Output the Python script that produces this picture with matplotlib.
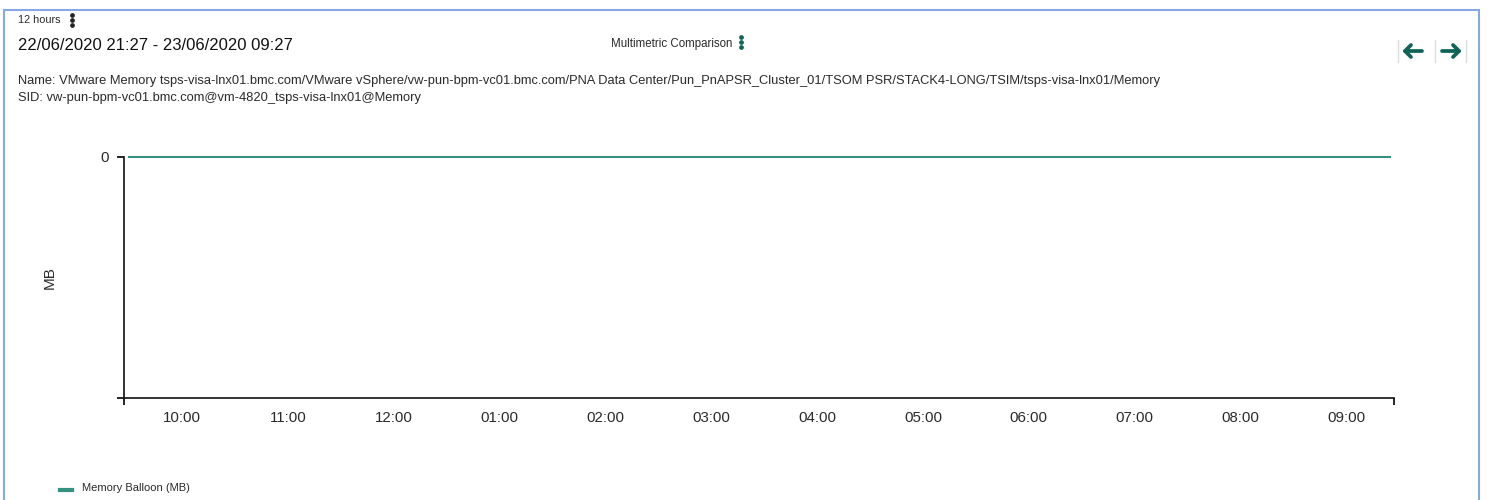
import matplotlib
matplotlib.use('Agg')
import matplotlib.pyplot as plt
import matplotlib.dates as mdates
from matplotlib.lines import Line2D
from matplotlib.patches import Rectangle
import pandas as pd

# Данные
range_start = "2020-06-22 21:27"
range_end = "2020-06-23 09:27"
times = ["2020-06-22 21:30", "2020-06-22 22:30", "2020-06-22 23:30", "2020-06-23 00:30",
         "2020-06-23 01:30", "2020-06-23 02:30", "2020-06-23 03:30", "2020-06-23 04:30",
         "2020-06-23 05:30", "2020-06-23 06:30", "2020-06-23 07:30", "2020-06-23 08:30",
         "2020-06-23 09:25"]
balloon_mb = [0, 0, 0, 0, 0, 0, 0, 0, 0, 0, 0, 0, 0]
series_name = "Memory Balloon (MB)"

header_period = "12 hours"
header_range = "22/06/2020 21:27 - 23/06/2020 09:27"
chart_title = "Multimetric Comparison"
name_line = ("Name: VMware Memory tsps-visa-lnx01.bmc.com/VMware vSphere/vw-pun-bpm-vc01.bmc.com/"
             "PNA Data Center/Pun_PnAPSR_Cluster_01/TSOM PSR/STACK4-LONG/TSIM/tsps-visa-lnx01/Memory")
sid_line = "SID: vw-pun-bpm-vc01.bmc.com@vm-4820_tsps-visa-lnx01@Memory"

plt.rcParams['font.family'] = ['Liberation Sans', 'DejaVu Sans']

W, H = 1494, 500
fig = plt.figure(figsize=(W / 100, H / 100), dpi=100)


def fx(px):
    return px / W


def fy(py):
    return 1 - py / H


teal = '#35917f'
dark_teal = '#0f6457'
text_col = '#2a2a2a'

# рамка панели
fig.add_artist(Rectangle((fx(4), fy(560)), fx(1475), fy(10) - fy(560), transform=fig.transFigure,
                         fill=False, edgecolor='#86a8e4', linewidth=1.5))

# шапка
fig.text(fx(18), fy(20), header_period, fontsize=7.8, va='center', ha='left', color=text_col)
fig.text(fx(18), fy(45), header_range, fontsize=12, va='center', ha='left', color='#111111')
fig.text(fx(672), fy(44), chart_title, fontsize=8.3, va='center', ha='center', color=text_col)
fig.text(fx(18), fy(81), name_line, fontsize=9.3, va='center', ha='left', color=text_col)
fig.text(fx(18), fy(98), sid_line, fontsize=9.3, va='center', ha='left', color=text_col)

# меню "три точки"
for cx, cy, col in [(72, 20, '#222222'), (741, 42, dark_teal)]:
    for dy in (-5, 0, 5):
        fig.add_artist(Line2D([fx(cx)], [fy(cy + dy)], marker='o', markersize=2.4,
                              color=col, transform=fig.transFigure))

# стрелки навигации
for sx in (1398, 1435, 1466):
    fig.add_artist(Line2D([fx(sx), fx(sx)], [fy(40), fy(62)], color='#dddddd', linewidth=1,
                          transform=fig.transFigure))
arrow_kw = dict(color=dark_teal, linewidth=2.7, solid_capstyle='round', solid_joinstyle='round',
                transform=fig.transFigure)
# влево
fig.add_artist(Line2D([fx(1405), fx(1422)], [fy(51), fy(51)], **arrow_kw))
fig.add_artist(Line2D([fx(1411), fx(1405), fx(1411)], [fy(45), fy(51), fy(57)], **arrow_kw))
# вправо
fig.add_artist(Line2D([fx(1442), fx(1459)], [fy(51), fy(51)], **arrow_kw))
fig.add_artist(Line2D([fx(1453), fx(1459), fx(1453)], [fy(45), fy(51), fy(57)], **arrow_kw))

# график
ax = fig.add_axes([fx(124), fy(398), fx(1394) - fx(124), fy(157) - fy(398)])
t = pd.to_datetime(times)
ax.plot(t, balloon_mb, color=teal, linewidth=1.5, clip_on=False)

x0, x1 = pd.Timestamp(range_start), pd.Timestamp(range_end)
ax.set_xlim(x0, x1)
ax.set_ylim(-1, 0)

ax.xaxis.set_major_locator(mdates.HourLocator())
ax.xaxis.set_major_formatter(mdates.DateFormatter('%I:%M'))
ax.set_xticks([mdates.date2num(x0), mdates.date2num(x1)], minor=True)
ax.tick_params(axis='x', which='major', length=0, labelsize=10.8, pad=9.5, labelcolor=text_col)
ax.tick_params(axis='x', which='minor', length=5, width=1.2, direction='out')

ax.set_yticks([0])
ax.set_yticklabels(['0'])
ax.set_yticks([-1], minor=True)
ax.tick_params(axis='y', which='major', length=5, width=1.2, labelsize=10.8, pad=6, labelcolor=text_col)
ax.tick_params(axis='y', which='minor', length=5, width=1.2)

ax.set_ylabel('MB', fontsize=11, color=text_col, labelpad=31)

for s in ('top', 'right'):
    ax.spines[s].set_visible(False)
for s in ('left', 'bottom'):
    ax.spines[s].set_linewidth(1.2)
    ax.spines[s].set_color('#111111')

# легенда
fig.add_artist(Line2D([fx(60), fx(72)], [fy(490), fy(490)], color=teal, linewidth=3,
                      transform=fig.transFigure))
fig.text(fx(82), fy(488), series_name, fontsize=8.0, va='center', ha='left', color=text_col)

plt.savefig('out.png', dpi=100)
